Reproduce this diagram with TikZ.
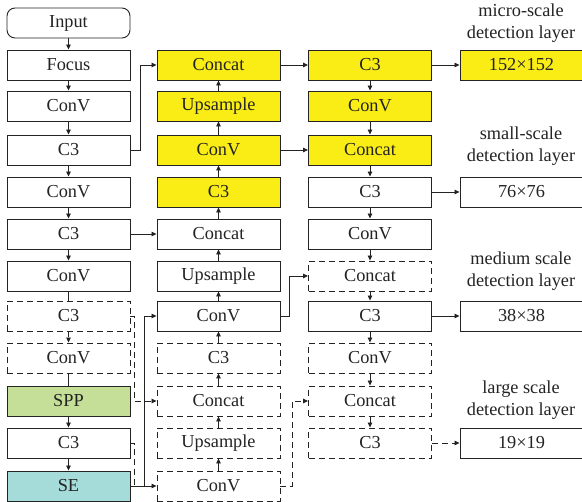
\documentclass[tikz,border=0pt]{standalone}
\usepackage{fontspec}
\setmainfont{Liberation Serif}
\usetikzlibrary{arrows.meta}
\definecolor{yel}{RGB}{250,237,22}
\definecolor{sppg}{RGB}{197,223,152}
\definecolor{seb}{RGB}{165,219,216}
\definecolor{ink}{RGB}{35,35,35}
\begin{document}
\begin{tikzpicture}[x=1pt,y=-1pt,
  blk/.style={draw=ink,text=ink,line width=0.9pt,minimum width=123pt,minimum height=30pt,inner sep=0pt,font=\fontsize{18.3}{20}\selectfont},
  dblk/.style={blk,dash pattern=on 6pt off 4pt},
  yb/.style={blk,fill=yel},
  arr/.style={-{Triangle[length=5pt,width=4.5pt]},line width=0.8pt,draw=ink},
  darr/.style={arr,dash pattern=on 6pt off 4pt},
  dln/.style={line width=0.8pt,draw=ink,dash pattern=on 6pt off 4pt},
  sln/.style={line width=0.8pt,draw=ink},
  lbl/.style={align=center,inner sep=0pt,text=ink,font=\fontsize{18.3}{21.5}\selectfont}]
\useasboundingbox (0,0) rectangle (582,502);
% column 1
\node[blk,rounded corners=8pt] (in) at (68.5,23) {Input};
\node[blk] (foc) at (68.5,65) {Focus};
\node[blk] (c1) at (68.5,106) {ConV};
\node[blk] (c2) at (68.5,150) {C3};
\node[blk] (c3) at (68.5,192) {ConV};
\node[blk] (c4) at (68.5,234) {C3};
\node[blk] (c5) at (68.5,276) {ConV};
\node[dblk] (c6) at (68.5,316) {C3};
\node[dblk] (c7) at (68.5,358) {ConV};
\node[blk,fill=sppg] (spp) at (68.5,401) {SPP};
\node[blk] (c9) at (68.5,443) {C3};
\node[blk,fill=seb] (se) at (68.5,486) {SE};
% column 2
\node[yb] (m1) at (218.5,65) {Concat};
\node[yb] (m2) at (218.5,106) {Upsample};
\node[yb] (m3) at (218.5,150) {ConV};
\node[yb] (m4) at (218.5,192) {C3};
\node[blk] (m5) at (218.5,234) {Concat};
\node[blk] (m6) at (218.5,276) {Upsample};
\node[blk] (m7) at (218.5,316) {ConV};
\node[dblk] (m8) at (218.5,358) {C3};
\node[dblk] (m9) at (218.5,401) {Concat};
\node[dblk] (m10) at (218.5,443) {Upsample};
\node[dblk] (m11) at (218.5,486) {ConV};
% column 3
\node[yb] (r1) at (370,65) {C3};
\node[yb] (r2) at (370,106) {ConV};
\node[yb] (r3) at (370,150) {Concat};
\node[blk] (r4) at (370,192) {C3};
\node[blk] (r5) at (370,234) {ConV};
\node[dblk] (r6) at (370,276) {Concat};
\node[blk] (r7) at (370,316) {C3};
\node[dblk] (r8) at (370,358) {ConV};
\node[dblk] (r9) at (370,401) {Concat};
\node[dblk] (r10) at (370,443) {C3};
% column 4
\node[yb] (o1) at (521.5,65) {152×152};
\node[blk] (o2) at (521.5,192) {76×76};
\node[blk] (o3) at (521.5,316) {38×38};
\node[blk] (o4) at (521.5,443) {19×19};
\node[lbl] (l1) at (521,23) {micro-scale\\detection layer};
\node[lbl] (l2) at (521,146) {small-scale\\detection layer};
\node[lbl] (l3) at (521,271) {medium scale\\detection layer};
\node[lbl] (l4) at (521,400) {large scale\\detection layer};
% column 1 flow
\draw[arr] (in) -- (foc);
\draw[arr] (foc) -- (c1);
\draw[arr] (c1) -- (c2);
\draw[arr] (c2) -- (c3);
\draw[arr] (c3) -- (c4);
\draw[arr] (c4) -- (c5);
\draw[sln] (c5) -- (c6);
\draw[darr] (c6) -- (c7);
\draw[sln] (c7) -- (spp);
\draw[arr] (spp) -- (c9);
\draw[arr] (c9) -- (se);
% column 1 -> column 2
\draw[arr] (c2.east) -- ++(10,0) |- (m1.west);
\draw[arr] (c4) -- (m5);
\draw[darr] (c6.east) -- ++(3.5,0) |- (m9.west);
\draw[dln] (c9.east) -- ++(3.5,0) |- (se.east);
\draw[arr] (se.east) -- (m11.west);
\draw[arr] ([xshift=14pt]se.east) |- (m7.west);
% column 2 flow (upwards)
\draw[arr] (m11) -- (m10);
\draw[arr] (m10) -- (m9);
\draw[arr] (m9) -- (m8);
\draw[arr] (m8) -- (m7);
\draw[arr] (m7) -- (m6);
\draw[arr] (m6) -- (m5);
\draw[arr] (m5) -- (m4);
\draw[arr] (m4) -- (m3);
\draw[arr] (m3) -- (m2);
\draw[arr] (m2) -- (m1);
% column 2 -> column 3
\draw[arr] (m1) -- (r1);
\draw[arr] (m3) -- (r3);
\draw[arr] (m7.east) -- ++(9,0) |- (r6.west);
\draw[darr] (m11.east) -- ++(12,0) |- (r9.west);
% column 3 flow
\draw[arr] (r1) -- (r2);
\draw[arr] (r2) -- (r3);
\draw[arr] (r3) -- (r4);
\draw[arr] (r4) -- (r5);
\draw[arr] (r5) -- (r6);
\draw[arr] (r6) -- (r7);
\draw[arr] (r7) -- (r8);
\draw[arr] (r8) -- (r9);
\draw[arr] (r9) -- (r10);
% column 3 -> outputs
\draw[arr] (r1) -- (o1);
\draw[arr] (r4) -- (o2);
\draw[arr] (r7) -- (o3);
\draw[darr] (r10) -- (o4);
\end{tikzpicture}
\end{document}
